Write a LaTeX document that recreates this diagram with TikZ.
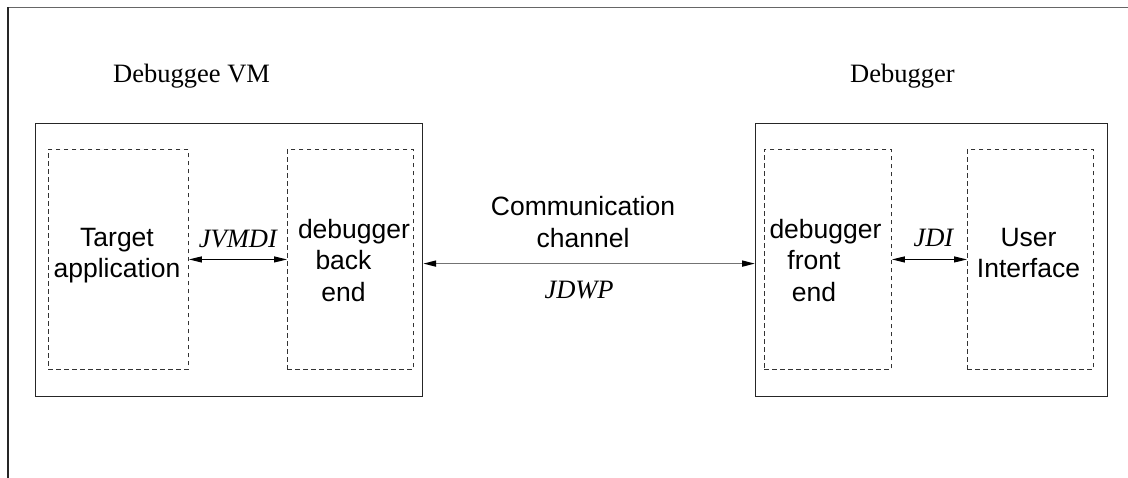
\documentclass[tikz,border=0pt]{standalone}
\usepackage{fontspec}
\setmainfont{Liberation Serif}
\setsansfont{Liberation Sans}
\usetikzlibrary{arrows.meta}

\begin{document}
\begin{tikzpicture}[x=1pt,y=-1pt,
  frame/.style={draw=black!85,line width=1.2pt,inner sep=0pt,anchor=north west},
  part/.style={draw=black!80,line width=0.9pt,dash pattern=on 4.5pt off 3.5pt,inner sep=0pt,anchor=north west},
  lbl/.style={font=\fontsize{26.5}{31.5}\selectfont\sffamily,align=center,inner sep=0pt,anchor=north},
  hdr/.style={font=\fontsize{26.5}{31.5}\selectfont,inner sep=0pt,anchor=base west},
  api/.style={font=\fontsize{26.5}{31.5}\selectfont\itshape,inner sep=0pt,anchor=base},
  link/.style={{Triangle[length=13pt,width=6pt]}-{Triangle[length=13pt,width=6pt]},line width=1.1pt},
  wire/.style={{Triangle[length=13pt,width=6pt,color=black]}-{Triangle[length=13pt,width=6pt,color=black]},draw=black!55,line width=1.7pt}
]
\useasboundingbox (0,0) rectangle (1128,478);

% page frame (top and left edges)
\draw[black!60,line width=1.6pt] (8,7.5) -- (1128,7.5);
\draw[black!85,line width=1.2pt] (8,7.5) -- (8,478);

% debuggee side
\node[hdr] (vmname) at (113,83) {Debuggee VM};
\node[frame,minimum width=387pt,minimum height=273pt] (vm) at (35,123) {};
\node[part,minimum width=140pt,minimum height=220pt] (app) at (48,149) {};
\node[part,minimum width=126pt,minimum height=220pt] (be) at (287,149) {};
\node[lbl] (apptxt) at (117,228) {Target\\application};
\node[lbl] (betxt) at (343.5,219) {\hspace*{21pt}debugger\\back\\end};

% debugger side
\node[hdr] (dbgname) at (850,83) {Debugger};
\node[frame,minimum width=352pt,minimum height=273pt] (dbg) at (755,123) {};
\node[part,minimum width=127pt,minimum height=220pt] (fe) at (764,149) {};
\node[part,minimum width=126pt,minimum height=220pt] (ui) at (967,149) {};
\node[lbl] (fetxt) at (814,219) {\hspace*{23pt}debugger\\front\\end};
\node[lbl] (uitxt) at (1028.5,228) {User\\Interface};

% interfaces
\draw[link] (app.east) -- node[api,yshift=12pt] (jvmdi) {JVMDI} (be.west);
\draw[link] (fe.east) -- node[api,yshift=13pt,xshift=4pt] (jdi) {JDI} (ui.west);
\draw[wire] ([yshift=-3.5pt]vm.east) -- node[api,yshift=-35pt,xshift=-10pt] (jdwp) {JDWP} ([yshift=-3.5pt]dbg.west);
\node[lbl] (chan) at (583,196.5) {Communication\\channel};
\end{tikzpicture}
\end{document}
